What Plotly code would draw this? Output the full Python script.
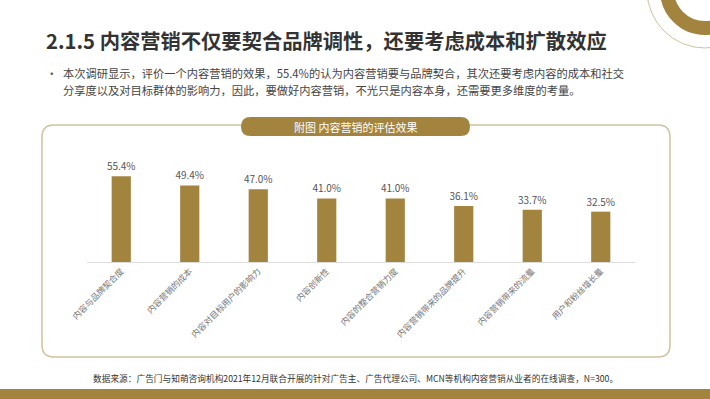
import plotly.graph_objects as go

categories = ["内容与品牌契合度", "内容营销的成本", "内容对目标用户的影响力", "内容创新性",
              "内容的整合营销力度", "内容营销带来的品牌提升", "内容营销带来的流量", "用户和粉丝增长量"]
values = [55.4, 49.4, 47.0, 41.0, 41.0, 36.1, 33.7, 32.5]

title_text = "2.1.5 内容营销不仅要契合品牌调性，还要考虑成本和扩散效应"
bullet_line1 = "本次调研显示，评价一个内容营销的效果，55.4%的认为内容营销要与品牌契合，其次还要考虑内容的成本和社交"
bullet_line2 = "分享度以及对目标群体的影响力，因此，要做好内容营销，不光只是内容本身，还需要更多维度的考量。"
panel_title = "附图 内容营销的评估效果"
source_text = "数据来源：广告门与知萌咨询机构2021年12月联合开展的针对广告主、广告代理公司、MCN等机构内容营销从业者的在线调查，N=300。"

GOLD = "#A3843F"
BORDER = "#CFC29C"
FONT = "Noto Sans CJK SC, sans-serif"

FW, FH = 710, 399
L, R, T, Bm = 87, 75, 150, 137
W = FW - L - R
H = FH - T - Bm
BASE = FH - Bm


def px(x):
    return (x - L) / W


def py(y):
    return (BASE - y) / H


def P(x, y):
    return f"{px(x):.5f},{py(y):.5f}"


def rounded_rect(x0, y0, x1, y1, r):
    return (f"M {P(x0 + r, y0)} L {P(x1 - r, y0)} Q {P(x1, y0)} {P(x1, y0 + r)} "
            f"L {P(x1, y1 - r)} Q {P(x1, y1)} {P(x1 - r, y1)} "
            f"L {P(x0 + r, y1)} Q {P(x0, y1)} {P(x0, y1 - r)} "
            f"L {P(x0, y0 + r)} Q {P(x0, y0)} {P(x0 + r, y0)} Z")


fig = go.Figure()
fig.add_trace(go.Bar(
    x=categories, y=values,
    marker=dict(color=GOLD, line=dict(width=0)),
    text=[f"{v:.1f}%" for v in values],
    textposition="outside",
    constraintext="none",
    textfont=dict(size=10, color="#555555", family=FONT),
    cliponaxis=False,
    hoverinfo="skip",
))

shapes = []
shapes.append(dict(type="path", xref="paper", yref="paper",
                   path=rounded_rect(42, 125, 670, 357, 12),
                   line=dict(color=BORDER, width=1.5), fillcolor="rgba(0,0,0,0)", layer="below"))
shapes.append(dict(type="path", xref="paper", yref="paper",
                   path=rounded_rect(241, 117, 470, 136, 9.5),
                   line=dict(width=0), fillcolor=GOLD, layer="above"))
shapes.append(dict(type="rect", xref="paper", yref="paper",
                   x0=px(-5), x1=px(FW + 5), y0=py(FH + 5), y1=py(389),
                   line=dict(width=0), fillcolor=GOLD))
cx, cy = 705, -10
r1 = 38
shapes.append(dict(type="circle", xref="paper", yref="paper",
                   x0=px(cx - r1), x1=px(cx + r1), y0=py(cy + r1), y1=py(cy - r1),
                   line=dict(color=GOLD, width=14), fillcolor="rgba(0,0,0,0)"))
r2 = 58
shapes.append(dict(type="circle", xref="paper", yref="paper",
                   x0=px(cx - r2), x1=px(cx + r2), y0=py(cy + r2), y1=py(cy - r2),
                   line=dict(color=BORDER, width=1), fillcolor="rgba(0,0,0,0)"))

annotations = [
    dict(text=f"<b>{title_text}</b>", x=px(44), y=py(40), xanchor="left", yanchor="middle",
         font=dict(size=20.3, color="#333333", family=FONT)),
    dict(text="•", x=px(44), y=py(73), xanchor="left", yanchor="middle",
         font=dict(size=11.5, color="#555555", family=FONT)),
    dict(text=bullet_line1, x=px(61), y=py(73), xanchor="left", yanchor="middle",
         font=dict(size=11.25, color="#444444", family=FONT)),
    dict(text=bullet_line2, x=px(61), y=py(90), xanchor="left", yanchor="middle",
         font=dict(size=11.25, color="#444444", family=FONT)),
    dict(text=panel_title, x=px(355), y=py(126.5), xanchor="center", yanchor="middle",
         font=dict(size=11, color="#FFFFFF", family=FONT)),
    dict(text=source_text, x=px(355), y=py(378), xanchor="center", yanchor="middle",
         font=dict(size=8.7, color="#333333", family=FONT)),
]
for a in annotations:
    a.update(xref="paper", yref="paper", showarrow=False)

fig.update_layout(
    width=FW, height=FH, autosize=False,
    margin=dict(l=L, r=R, t=T, b=Bm, autoexpand=False),
    paper_bgcolor="white", plot_bgcolor="rgba(0,0,0,0)",
    showlegend=False,
    bargap=0.72,
    shapes=shapes,
    annotations=annotations,
    font=dict(family=FONT),
    xaxis=dict(showline=True, linecolor="#DDDDDD", linewidth=1, ticks="",
               tickangle=-45, tickfont=dict(size=8.5, color="#777777", family=FONT),
               showgrid=False, fixedrange=True, automargin=False),
    yaxis=dict(range=[0, 72.3], visible=False, showgrid=False, zeroline=False,
               fixedrange=True, automargin=False),
)

fig.write_html("out.html", config={"displayModeBar": False},
               post_script="document.body.style.margin='0';document.body.style.overflow='hidden';")
